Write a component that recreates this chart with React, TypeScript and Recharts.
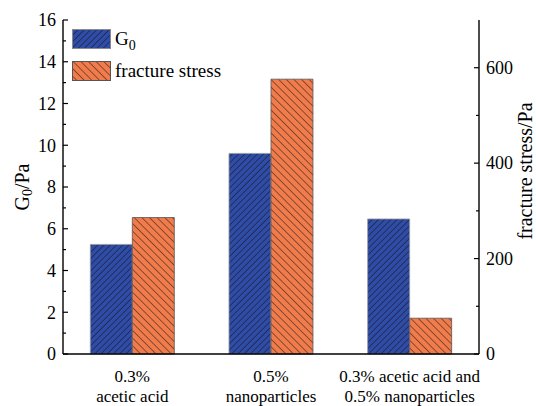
import React from "react";
import {
  BarChart,
  Bar,
  XAxis,
  YAxis,
  Legend,
} from "recharts";

const categories = [
  ["0.3%", "acetic acid"],
  ["0.5%", "nanoparticles"],
  ["0.3% acetic acid and", "0.5% nanoparticles"],
];
const g0Values = [5.25, 9.61, 6.47];
const fractureValues = [286, 576, 75];
const leftTicks = [0, 1, 2, 3, 4, 5, 6, 7, 8, 9, 10, 11, 12, 13, 14, 15, 16];
const rightTicks = [0, 100, 200, 300, 400, 500, 600, 700];

const data = categories.map((c, i) => ({
  name: c.join("\n"),
  g0: g0Values[i],
  fracture: fractureValues[i],
}));

const FONT = "'Liberation Serif', 'Times New Roman', serif";
const BLUE = "#2f4ca6";
const ORANGE = "#f27b4b";
const TICK_MARGIN = 7;

function LeftTick(props: any) {
  const { x, y, payload } = props;
  const ax = x + TICK_MARGIN;
  const major = payload.value % 2 === 0;
  return (
    <g>
      <line x1={ax} x2={ax + (major ? 5 : 3)} y1={y} y2={y} stroke="#000" strokeWidth={1.2} />
      {major && (
        <text x={x} y={y} dy="0.35em" textAnchor="end" fontSize={18} fontFamily={FONT} fill="#000">
          {payload.value}
        </text>
      )}
    </g>
  );
}

function RightTick(props: any) {
  const { x, y, payload } = props;
  const ax = x - TICK_MARGIN;
  const major = payload.value % 200 === 0;
  if (payload.value === 700) return null;
  return (
    <g>
      <line x1={ax} x2={ax - (major ? 5 : 3)} y1={y} y2={y} stroke="#000" strokeWidth={1.2} />
      {major && (
        <text x={x} y={y} dy="0.35em" textAnchor="start" fontSize={18} fontFamily={FONT} fill="#000">
          {payload.value}
        </text>
      )}
    </g>
  );
}

function CategoryTick(props: any) {
  const { x, y, payload } = props;
  const lines = String(payload.value).split("\n");
  return (
    <text x={x} y={y} textAnchor="middle" fontSize={17} fontFamily={FONT} fill="#000">
      <tspan x={x} dy={20}>{lines[0]}</tspan>
      <tspan x={x} dy={20}>{lines[1]}</tspan>
    </text>
  );
}

function LeftTitle(props: any) {
  const { viewBox } = props;
  const cx = viewBox.x + 22;
  const cy = viewBox.y + viewBox.height / 2;
  return (
    <text
      x={cx}
      y={cy}
      transform={`rotate(-90 ${cx} ${cy})`}
      textAnchor="middle"
      dominantBaseline="central"
      fontSize={20}
      fontFamily={FONT}
      fill="#000"
    >
      G<tspan fontSize={14} dy={5}>0</tspan>
      <tspan dy={-5}>/Pa</tspan>
    </text>
  );
}

function RightTitle(props: any) {
  const { viewBox } = props;
  const cx = viewBox.x + 46;
  const cy = viewBox.y + viewBox.height / 2 - 16;
  return (
    <text
      x={cx}
      y={cy}
      transform={`rotate(-90 ${cx} ${cy})`}
      textAnchor="middle"
      dominantBaseline="central"
      fontSize={20}
      fontFamily={FONT}
      fill="#000"
    >
      fracture stress/Pa
    </text>
  );
}

function LegendBox() {
  const items = [
    { fill: "url(#hatchBlue)", stroke: "#8a8a8a", label: "G", sub: "0" },
    { fill: "url(#hatchOrange)", stroke: "#555", label: "fracture stress", sub: "" },
  ];
  return (
    <svg width={160} height={56} style={{ overflow: "visible", display: "block" }}>
      {items.map((it, i) => (
        <g key={i} transform={`translate(0, ${i * 32})`}>
          <rect x={0.5} y={0.5} width={38} height={19} fill={it.fill} stroke={it.stroke} />
          <text x={43} y={16} fontSize={19} fontFamily={FONT} fill="#000">
            {it.label}
            {it.sub && (
              <tspan fontSize={14} dy={5}>
                {it.sub}
              </tspan>
            )}
          </text>
        </g>
      ))}
    </svg>
  );
}

export default function App() {
  return (
    <div style={{ position: "absolute", left: 0, top: 0, width: 536, height: 406, background: "#fff" }}>
      <BarChart
        width={536}
        height={406}
        data={data}
        margin={{ top: 20, right: 0, bottom: 0, left: 0 }}
        barGap={0}
        barCategoryGap="19.7%"
      >
        <defs>
          <pattern id="hatchBlue" patternUnits="userSpaceOnUse" width={4.4} height={4.4} patternTransform="rotate(45)">
            <rect width={4.4} height={4.4} fill={BLUE} />
            <line x1={0} y1={0} x2={0} y2={4.4} stroke="#1a1f3a" strokeWidth={1.3} />
          </pattern>
          <pattern id="hatchOrange" patternUnits="userSpaceOnUse" width={5.4} height={5.4} patternTransform="rotate(-45)">
            <rect width={5.4} height={5.4} fill={ORANGE} />
            <line x1={0} y1={0} x2={0} y2={5.4} stroke="#3a2a22" strokeWidth={1.2} />
          </pattern>
        </defs>
        <XAxis
          dataKey="name"
          height={52}
          tickLine={false}
          axisLine={{ stroke: "#000", strokeWidth: 1.4 }}
          tick={<CategoryTick />}
          interval={0}
        />
        <XAxis xAxisId="top" orientation="top" dataKey="name" height={0} tick={false} tickLine={false} axisLine={{ stroke: "#000", strokeWidth: 1.4 }} />
        <YAxis
          yAxisId="left"
          width={63}
          domain={[0, 16]}
          ticks={leftTicks}
          interval={0}
          tickSize={0}
          tickMargin={TICK_MARGIN}
          tickLine={false}
          axisLine={{ stroke: "#000", strokeWidth: 1.4 }}
          tick={<LeftTick />}
          label={<LeftTitle />}
        />
        <YAxis
          yAxisId="right"
          orientation="right"
          width={57}
          domain={[0, 700]}
          ticks={rightTicks}
          interval={0}
          tickSize={0}
          tickMargin={TICK_MARGIN}
          tickLine={false}
          axisLine={{ stroke: "#000", strokeWidth: 1.4 }}
          tick={<RightTick />}
          label={<RightTitle />}
        />
        <Legend
          layout="horizontal"
          verticalAlign="middle"
          align="center"
          wrapperStyle={{ left: 72, top: 29, width: 160, height: 56 }}
          content={() => <LegendBox />}
        />
        <Bar yAxisId="left" dataKey="g0" name="G0" fill="url(#hatchBlue)" stroke="#9a9a9a" strokeWidth={0.8} isAnimationActive={false} />
        <Bar yAxisId="right" dataKey="fracture" name="fracture stress" fill="url(#hatchOrange)" stroke="#555" strokeWidth={0.8} isAnimationActive={false} />
      </BarChart>
    </div>
  );
}
